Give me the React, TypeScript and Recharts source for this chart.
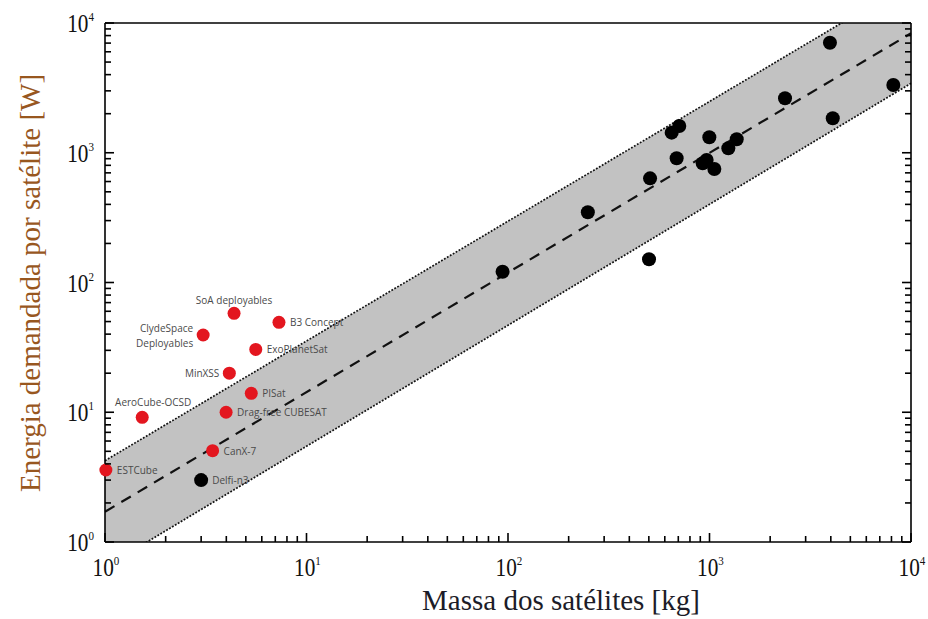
import React from "react";
import { ComposedChart, XAxis, YAxis, Area, Line, Scatter } from "recharts";

const decades = [1, 10, 100, 1000, 10000];
const minorSteps = [2, 3, 4, 5, 6, 7, 8, 9];
const logTicks = [
  ...decades,
  ...decades.slice(0, 4).flatMap((d) => minorSteps.map((s) => s * d)),
].sort((a, b) => a - b);

// regression band (two end points, log-log straight lines)
const bandMass = [1, 10000];
const lowerPower = [0.64, 3430];
const centerPower = [1.71, 8330];
const upperPower = [4.23, 20800];

// large satellites (black)
const blackNames = ["Delfi-n3", "", "", "", "", "", "", "", "", "", "", "", "", "", "", "", "", ""];
const blackMass = [3, 94, 249, 501, 507, 649, 687, 708, 925, 968, 998, 1057, 1240, 1365, 2370, 3960, 4090, 8170];
const blackPower = [3.0, 121, 348, 151, 635, 1428, 906, 1607, 829, 879, 1315, 750, 1082, 1270, 2630, 7050, 1845, 3330];

// cubesats (red)
const redNames = [
  "ESTCube", "AeroCube-OCSD", "ClydeSpace|Deployables", "SoA deployables", "B3 Concept",
  "ExoPlanetSat", "MinXSS", "PISat", "Drag-free CUBESAT", "CanX-7",
];
const redMass = [1.01, 1.53, 3.07, 4.37, 7.3, 5.6, 4.14, 5.32, 3.99, 3.42];
const redPower = [3.59, 9.14, 39.4, 57.9, 49.3, 30.5, 20.0, 14.0, 10.0, 5.06];

const labelSide: Record<string, string> = {
  "ClydeSpace|Deployables": "left2",
  "SoA deployables": "above",
  "AeroCube-OCSD": "aboveRight",
  MinXSS: "left",
};

const bandRows = bandMass.map((m, i) => ({
  m,
  band: [lowerPower[i], upperPower[i]],
  lower: lowerPower[i],
  center: centerPower[i],
  upper: upperPower[i],
}));
const blackRows = blackMass.map((m, i) => ({ m, p: blackPower[i], name: blackNames[i] }));
const redRows = redMass.map((m, i) => ({ m, p: redPower[i], name: redNames[i] }));

const serif = "'Liberation Serif', 'DejaVu Serif', serif";
const sans = "'Open Sans', 'Noto Sans', sans-serif";
const isMajor = (v: number) => decades.some((d) => Math.abs(d - v) < 1e-6 * d);
const expOf = (v: number) => Math.round(Math.log10(v));
const MAJOR = 9;
const MINOR = 6;

function PowLabel({ x, y, v, anchor }: { x: number; y: number; v: number; anchor: string }) {
  return (
    <text
      x={0} y={0} transform={`translate(${x} ${y}) scale(0.85 1)`}
      textAnchor={anchor} fontFamily={serif} fontSize={25} fill="#111"
    >
      10
      <tspan dy={-11} fontSize={13}>{expOf(v)}</tspan>
    </text>
  );
}

function BottomTick(props: any) {
  const { x, y, payload } = props;
  const major = isMajor(payload.value);
  return (
    <g>
      <line x1={x} x2={x} y1={y} y2={y - (major ? MAJOR : MINOR)} stroke="#000" strokeWidth={1.6} />
      {major && <PowLabel x={x + 1} y={y + 34} v={payload.value} anchor="middle" />}
    </g>
  );
}

function TopTick(props: any) {
  const { x, y, payload } = props;
  const major = isMajor(payload.value);
  return <line x1={x} x2={x} y1={y} y2={y + (major ? MAJOR : MINOR)} stroke="#000" strokeWidth={1.6} />;
}

function LeftTick(props: any) {
  const { x, y, payload } = props;
  const major = isMajor(payload.value);
  return (
    <g>
      <line x1={x} x2={x + (major ? MAJOR : MINOR)} y1={y} y2={y} stroke="#000" strokeWidth={1.6} />
      {major && <PowLabel x={x - 11} y={y + 9} v={payload.value} anchor="end" />}
    </g>
  );
}

function RightTick(props: any) {
  const { x, y, payload } = props;
  const major = isMajor(payload.value);
  return <line x1={x} x2={x - (major ? MAJOR : MINOR)} y1={y} y2={y} stroke="#000" strokeWidth={1.6} />;
}

function PointLabel({ cx, cy, name }: { cx: number; cy: number; name: string }) {
  if (!name) return null;
  const side = labelSide[name] || "right";
  const common = { fontFamily: sans, fontSize: 10, fill: "#4a4a4a" };
  if (side === "left2") {
    const [a, b] = name.split("|");
    return (
      <g>
        <text x={cx - 10} y={cy - 3} textAnchor="end" {...common}>{a}</text>
        <text x={cx - 10} y={cy + 12} textAnchor="end" {...common}>{b}</text>
      </g>
    );
  }
  if (side === "above") return <text x={cx} y={cy - 9} textAnchor="middle" {...common}>{name}</text>;
  if (side === "aboveRight") return <text x={cx + 11} y={cy - 11} textAnchor="middle" {...common}>{name}</text>;
  if (side === "left") return <text x={cx - 10} y={cy + 4} textAnchor="end" {...common}>{name}</text>;
  return <text x={cx + 11} y={cy + 4} textAnchor="start" {...common}>{name}</text>;
}

const dot = (fill: string, r: number) => (p: any) => (
  <g>
    <circle cx={p.cx} cy={p.cy} r={r} fill={fill} />
    <PointLabel cx={p.cx} cy={p.cy} name={p.payload?.name} />
  </g>
);

const axisLine = { stroke: "#000", strokeWidth: 1.6 };
const noText = () => "";

export default function App() {
  return (
    <div style={{ position: "absolute", left: 0, top: 0, background: "#fff" }}>
      <ComposedChart
        width={928}
        height={619}
        margin={{ top: 22, right: 16, bottom: 76, left: 104 }}
      >
        <Area
          xAxisId="b" yAxisId="l" data={bandRows} dataKey="band" type="linear"
          fill="#c2c2c2" fillOpacity={1} stroke="none" isAnimationActive={false}
        />
        <Line
          xAxisId="b" yAxisId="l" data={bandRows} dataKey="upper" type="linear" dot={false}
          stroke="#111" strokeWidth={1.7} strokeDasharray="1.8 1.6" isAnimationActive={false}
        />
        <Line
          xAxisId="b" yAxisId="l" data={bandRows} dataKey="lower" type="linear" dot={false}
          stroke="#111" strokeWidth={1.7} strokeDasharray="1.8 1.6" isAnimationActive={false}
        />
        <Line
          xAxisId="b" yAxisId="l" data={bandRows} dataKey="center" type="linear" dot={false}
          stroke="#111" strokeWidth={2.2} strokeDasharray="11 8" isAnimationActive={false}
        />
        <Scatter
          xAxisId="b" yAxisId="r" data={blackRows} dataKey="p" shape={dot("#000", 7)}
          isAnimationActive={false}
        />
        <Scatter
          xAxisId="b" yAxisId="r" data={redRows} dataKey="p" shape={dot("#e3161f", 6.5)}
          isAnimationActive={false}
        />
        <XAxis
          xAxisId="b" dataKey="m" type="number" scale="log" domain={[1, 10000]}
          ticks={logTicks} interval={0} minTickGap={0} tickFormatter={noText}
          height={1} tickSize={0} tickMargin={0} tickLine={false}
          axisLine={axisLine} tick={(p: any) => <BottomTick {...p} />}
        />
        <XAxis
          xAxisId="t" orientation="top" dataKey="m" type="number" scale="log" domain={[1, 10000]}
          ticks={logTicks} interval={0} minTickGap={0} tickFormatter={noText}
          height={1} tickSize={0} tickMargin={0} tickLine={false}
          axisLine={axisLine} tick={(p: any) => <TopTick {...p} />}
        />
        <YAxis
          yAxisId="l" type="number" scale="log" domain={[1, 10000]} allowDataOverflow
          ticks={logTicks} interval={0} minTickGap={0} tickFormatter={noText}
          width={1} tickSize={0} tickMargin={0} tickLine={false}
          axisLine={axisLine} tick={(p: any) => <LeftTick {...p} />}
        />
        <YAxis
          yAxisId="r" orientation="right" dataKey="p" type="number" scale="log" domain={[1, 10000]}
          ticks={logTicks} interval={0} minTickGap={0} tickFormatter={noText}
          width={1} tickSize={0} tickMargin={0} tickLine={false}
          axisLine={axisLine} tick={(p: any) => <RightTick {...p} />}
        />
        <text x={561} y={610} textAnchor="middle" fontFamily={serif} fontSize={29} fill="#1c1c28">
          Massa dos satélites [kg]
        </text>
        <text
          x={0} y={0} transform="translate(40 283) rotate(-90)" textAnchor="middle"
          fontFamily={serif} fontSize={29} fill="#98571f"
        >
          Energia demandada por satélite [W]
        </text>
      </ComposedChart>
    </div>
  );
}
